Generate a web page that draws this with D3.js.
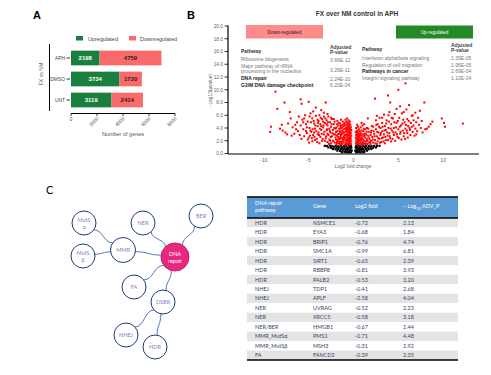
<!DOCTYPE html>
<html>
<head>
<meta charset="utf-8">
<script src="https://cdn.jsdelivr.net/npm/d3@7"></script>
<style>
  body { margin: 0; background: #fff; }
  svg { display: block; font-family: "Liberation Sans", Arial, sans-serif; }
</style>
</head>
<body>
<div id="chart"></div>
<script>
// ---- panel A data
const treatments = ['APH', 'DMSO', 'UNT']
const upregulated = [2198, 3734, 3119]
const downregulated = [4759, 1720, 2414]
const geneTicks = [0, 2000, 4000, 6000, 8000]

// ---- panel B data
const volcanoYTicks = [0, 2, 4, 6, 8, 10, 12, 14, 16, 18, 20]
const volcanoXTicks = [-10, -5, 0, 5, 10]
const downPathways = ['Ribosome biogenesis', 'Major pathway of rRNA|processing in the nucleolus', 'DNA repair', 'G2/M DNA damage checkpoint']
const downPvalues = ['3.66E-12', '3.26E-11', '2.24E-10', '6.20E-04']
const upPathways = ['Interferon alpha/beta signaling', 'Regulation of cell migration', 'Pathways in cancer', 'Integrin signaling pathway']
const upPvalues = ['1.39E-05', '1.95E-05', '2.69E-04', '1.10E-04']
// log2 fold change, -log10 p
const sigPoints = `
-9.3 3.4,-9.2 4.2,-8.7 9.7,-8.5 7.0,-8.2 3.9,-7.9 3.6,-7.7 8.0,-7.6 3.3,-7.3 4.7,-7.1 6.5,-7.0 5.5,-6.8 4.1,-6.6 3.1,-6.5 4.5,
-6.3 4.9,-6.2 3.5,-6.0 2.9,-5.9 8.5,-5.8 7.8,-5.9 4.4,-5.7 5.3,-5.6 3.8,-5.5 2.7,-5.4 6.0,-5.3 4.6,-5.2 3.2,-5.1 5.0,-5.0 8.1,
-5.0 2.5,-5.2 4.1,-4.9 4.0,-4.8 6.3,-4.8 3.6,-4.7 3.4,-4.6 5.5,-4.6 1.9,-4.5 2.9,-4.4 4.7,-4.4 3.3,-4.3 3.9,-4.3 2.1,-4.2 7.2,
-4.2 5.9,-4.1 2.3,-4.0 4.3,-4.0 3.0,-3.9 3.3,-3.9 5.1,-3.8 6.0,-3.8 1.6,-3.7 2.6,-3.7 4.6,-3.6 3.7,-3.6 4.3,-3.5 5.4,-3.5 2.0,
-3.4 4.1,-3.4 5.0,-3.3 3.0,-3.3 6.4,-3.2 4.8,-3.2 2.0,-3.1 8.0,-3.1 2.4,-3.0 3.6,-3.0 5.2,-3.0 4.6,-2.9 4.4,-2.9 1.8,-2.9 3.1,
-2.8 2.9,-2.8 5.8,-2.7 3.9,-2.7 2.2,-2.6 4.9,-2.6 3.3,-2.6 2.0,-2.5 1.6,-2.5 4.2,-2.4 2.7,-2.4 5.4,-2.3 3.7,-2.3 2.0,-2.2 4.6,
-2.2 3.0,-2.1 1.7,-2.1 5.0,-2.0 2.5,-2.0 3.9,
-6.4 3.8,-6.1 5.8,-5.8 2.3,-5.6 4.9,-5.3 3.5,-5.1 2.2,-6.9 2.8,-7.4 3.0,-8.0 4.5,-5.5 5.5,-4.9 5.8,-4.5 6.6,-4.0 5.3,-3.6 6.8,
-3.3 5.8,-2.9 6.2,-2.5 5.6,-2.2 5.4,-1.8 5.1,-1.4 5.3,
-4.95 1.7,-4.85 2.8,-4.75 4.9,-4.65 2.4,-4.55 3.8,-4.45 5.1,-4.35 2.6,-4.25 4.4,-4.15 3.5,-4.05 1.8,-3.95 4.8,-3.85 2.9,-3.75 3.9,
-3.65 5.6,-3.55 3.1,-3.45 2.3,-3.35 4.4,-3.25 3.4,-3.15 5.5,-3.05 2.7,-2.95 3.8,-2.85 4.9,-2.75 1.5,-2.65 3.6,-2.55 2.6,-2.45 4.6,
-2.35 3.2,-2.25 1.9,-2.15 4.0,-2.05 3.0,-1.95 2.2,-1.95 3.4,-1.85 4.6,-1.85 1.8,-1.75 3.0,-1.65 2.3,-1.65 4.8,-1.55 1.6,-1.55 3.6,
-1.45 2.6,-1.45 4.3,-1.35 3.2,-1.25 1.9,-1.25 4.1,-1.15 2.3,-1.15 3.4,-1.05 4.6,-1.05 2.5,
-1.9 1.5,-1.9 2.8,-1.9 4.1,-1.8 2.1,-1.8 3.5,-1.7 1.6,-1.7 2.6,-1.7 4.4,-1.6 3.1,-1.6 1.9,-1.6 3.9,-1.5 2.3,-1.5 1.4,-1.5 3.4,
-1.5 4.7,-1.4 2.9,-1.4 1.8,-1.4 4.0,-1.3 2.4,-1.3 3.6,-1.3 1.5,-1.3 4.5,-1.2 2.0,-1.2 3.1,-1.2 5.0,-1.1 1.7,-1.1 2.7,-1.1 3.8,
-1.1 4.3,-1.0 2.2,-1.0 3.3,-1.0 1.4,-1.0 4.8,-0.95 2.9,-0.95 3.9,-0.9 1.9,-0.9 2.5,-0.9 4.4,-0.9 5.3,-0.85 3.5,-0.85 1.5,
-0.8 2.1,-0.8 3.0,-0.8 4.0,-0.8 5.0,-0.75 2.7,-0.75 1.7,-0.75 3.7,-0.75 4.6,-0.7 2.3,-0.7 3.3,-0.7 1.4,-0.7 4.2,-0.7 5.5,
-0.65 2.0,-0.65 2.9,-0.65 3.9,-0.65 4.9,-0.6 1.6,-0.6 2.5,-0.6 3.5,-0.6 4.5,-0.55 2.2,-0.55 3.1,-0.55 4.1,-0.55 5.2,-0.5 1.4,
-0.5 1.9,-0.5 2.8,-0.5 3.7,-0.5 4.7,-0.45 2.4,-0.45 3.3,-0.45 4.3,-0.4 1.7,-0.4 2.1,-0.4 3.0,-0.4 3.9,-0.4 5.0,-0.35 2.6,
-0.35 3.5,-0.35 4.5,-0.3 1.5,-0.3 2.3,-0.3 3.2,-0.3 4.1,-0.25 1.9,-0.25 2.8,-0.25 3.7,
0.25 1.6,0.25 2.5,0.25 3.4,0.3 2.0,0.3 2.9,0.3 4.0,0.35 1.4,0.35 2.3,0.35 3.2,0.4 1.8,0.4 2.7,0.4 3.6,0.4 4.5,0.45 2.1,0.45 3.0,
0.5 1.5,0.5 2.4,0.5 3.4,0.5 4.2,0.55 1.9,0.55 2.8,0.6 1.6,0.6 2.2,0.6 3.1,0.6 3.8,0.65 2.6,0.7 1.4,0.7 2.0,0.7 2.9,0.7 3.5,
0.75 2.4,0.8 1.7,0.8 3.2,0.8 4.1,0.85 2.1,0.85 2.8,0.9 1.5,0.9 3.6,0.95 2.4,1.0 1.8,1.0 3.0,1.0 4.4,1.05 2.2,1.1 1.5,1.1 2.7,
1.1 3.5,1.2 2.0,1.2 3.1,1.25 1.6,1.3 2.5,1.3 3.8,1.4 1.9,1.4 3.0,1.5 2.3,1.5 1.5,1.5 4.0,1.6 2.8,1.6 5.5,1.7 1.7,1.7 3.4,
1.8 2.2,1.9 2.9,1.9 1.5,2.0 3.6,2.0 2.0,1.2 4.6,0.9 4.8,
1.05 1.6,1.15 3.9,1.25 2.8,1.35 1.5,1.45 3.4,1.55 2.0,1.65 3.9,1.75 2.5,1.85 1.8,1.95 3.3,2.05 4.3,2.15 2.2,2.25 3.5,2.35 2.7,
2.45 1.6,2.55 4.5,2.65 3.4,2.75 2.4,2.85 4.2,2.95 1.7,3.05 3.2,3.15 2.4,3.25 4.2,3.35 1.9,3.45 3.6,3.55 2.6,3.65 4.7,3.75 3.3,
3.85 2.1,3.95 5.0,4.05 2.7,4.15 3.9,4.25 5.6,4.35 2.3,4.45 3.3,4.55 4.9,4.65 2.0,4.75 4.1,4.85 3.0,4.95 5.1,5.05 2.4,5.15 4.2,
5.25 3.4,5.35 2.2,5.45 4.7,5.55 5.3,5.65 3.2,5.75 2.3,5.85 4.5,5.95 3.6,6.05 2.5,6.15 5.1,6.25 4.0,6.35 2.9,6.5 4.2,6.7 5.2,
6.8 2.8,7.0 3.0,7.3 4.5,7.7 3.3,8.2 3.9,8.6 4.6,6.6 6.0,5.6 6.5,4.8 7.0,3.9 6.0,3.2 5.6,2.6 5.9,
2.1 2.6,2.2 4.2,2.2 1.7,2.3 3.1,2.4 8.6,2.4 2.1,2.5 3.8,2.5 5.2,2.6 2.7,2.6 1.5,2.7 4.6,2.7 1.9,2.8 3.3,2.9 2.3,2.9 5.6,3.0 4.0,
3.0 2.9,3.1 1.8,3.2 3.5,3.2 4.8,3.3 2.5,3.4 6.1,3.4 3.0,3.5 4.3,3.5 1.6,3.6 2.1,3.6 3.7,3.7 5.2,3.8 2.8,3.85 9.1,3.9 4.0,
4.0 3.2,4.0 6.5,4.1 8.0,4.1 2.4,4.2 4.6,4.2 1.9,4.3 3.6,4.4 5.5,4.5 2.9,4.5 4.0,4.6 6.2,4.7 3.3,4.8 4.8,4.9 2.6,5.0 10.0,
5.0 3.8,5.1 5.6,5.2 7.4,5.2 3.1,5.3 4.4,5.4 6.3,5.5 3.6,5.6 2.7,5.7 4.9,5.8 11.0,5.8 3.9,5.9 6.9,6.0 3.2,6.0 5.4,6.1 4.3,
6.2 7.6,6.3 3.7,6.4 4.8,6.5 5.9,6.6 3.4,6.7 4.4,6.9 6.4,6.9 3.9,7.0 4.9,7.1 3.5,7.2 5.6,7.4 6.7,7.5 4.0,7.6 5.1,7.9 8.0,
8.0 3.8,8.4 4.2,8.8 5.0,9.85 5.5,10.1 4.8,10.2 4.2,12.2 4.7`
const nsPoints = `
-3.2 1.2,-2.95 1.17,-2.6 1.22,-2.35 1.15,-2.0 1.21,-1.75 1.14,-1.4 1.2,-1.1 1.16,-0.82 1.22,-0.5 1.15,-0.3 1.2,
0.3 1.18,0.52 1.22,0.8 1.14,1.1 1.2,1.38 1.16,1.7 1.21,2.0 1.15,2.3 1.2,2.62 1.17,2.9 1.2,
-2.8 0.95,-2.5 0.9,-2.2 0.97,-1.9 0.92,-1.6 0.96,-1.3 0.9,-1.0 0.95,-0.7 0.91,-0.45 0.97,-0.25 0.93,
0.25 0.95,0.45 0.9,0.7 0.96,1.0 0.92,1.3 0.97,1.6 0.91,1.9 0.95,2.2 0.92,2.5 0.96,
-2.3 0.7,-2.0 0.66,-1.7 0.72,-1.4 0.68,-1.1 0.71,-0.85 0.66,-0.6 0.7,-0.35 0.67,
0.35 0.7,0.6 0.66,0.85 0.72,1.1 0.68,1.4 0.7,1.7 0.67,2.0 0.71,
-1.8 0.45,-1.5 0.42,-1.2 0.47,-0.9 0.43,-0.65 0.46,-0.4 0.42,-0.2 0.45,
0.2 0.44,0.4 0.46,0.65 0.42,0.9 0.47,1.2 0.43,1.5 0.45,
-1.3 0.2,-1.0 0.22,-0.75 0.18,-0.5 0.21,-0.3 0.19,0.3 0.2,0.5 0.22,0.75 0.18,1.0 0.21,1.2 0.2`

// ---- panel C data
const repairNodes = ['DNA|repair', 'MutS|α', 'MutS|β', 'MMR', 'NER', 'BER', 'FA', 'DSBR', 'NHEJ', 'HDR']
const repairLinks = [['MutS|α', 'MMR'], ['MutS|β', 'MMR'], ['MMR', 'DNA|repair'], ['NER', 'DNA|repair'],
  ['BER', 'DNA|repair'], ['FA', 'DNA|repair'], ['DSBR', 'DNA|repair'], ['DSBR', 'NHEJ'], ['DSBR', 'HDR']]

// ---- table data
const tblPathway = ['HDR', 'HDR', 'HDR', 'HDR', 'HDR', 'HDR', 'HDR', 'NHEJ', 'NHEJ', 'NER', 'NER', 'NER/BER', 'MMR_MutSα', 'MMR_MutSβ', 'FA']
const tblGene = ['NSMCE1', 'EYA3', 'BRIP1', 'SMC1A', 'SIRT1', 'RBBP8', 'PALB2', 'TDP1', 'APLF', 'UVRAG', 'XRCC5', 'HMGB1', 'PMS1', 'MSH3', 'FANCD2']
const tblLog2 = [-0.72, -0.68, -0.76, -0.99, -0.65, -0.81, -0.53, -0.41, -2.58, -0.52, -0.58, -0.67, -0.71, -0.31, -0.39]
const tblP = [2.13, 1.84, 4.74, 6.81, 2.39, 3.93, 3.20, 2.68, 4.04, 2.23, 3.18, 2.44, 4.48, 2.92, 2.35]

const parsePts = s => s.trim().split(',').map(p => p.trim().split(' ').map(Number))

let W = 491, H = 375
let svg = d3.select('#chart').append('svg').attr('width', W).attr('height', H)
svg.append('rect').attr('width', W).attr('height', H).attr('fill', '#fff')

// panel letters
svg.append('text').text('A').attr('x', 33).attr('y', 19).attr('font-size', 11).attr('font-weight', 'bold')
svg.append('text').text('B').attr('x', 187).attr('y', 19).attr('font-size', 11).attr('font-weight', 'bold')
svg.append('text').text('C').attr('x', 46).attr('y', 194).attr('font-size', 11).attr('font-family', 'Lato, sans-serif')

// ================= A: stacked bars
{
  const green = '#1a7f3e', red = '#fb6a6a'
  let x = d3.scaleLinear().domain([0, 8000]).range([71, 175])
  let y = d3.scaleBand().domain(treatments).range([47.5, 110.5]).paddingInner(0.3).paddingOuter(0.15)
  let g = svg.append('g')
  let rows = treatments.map((t, i) => ({ name: t, up: upregulated[i], down: downregulated[i] }))

  g.selectAll('rect.up').data(rows).enter().append('rect')
    .attr('x', x(0)).attr('y', d => y(d.name)).attr('width', d => x(d.up) - x(0))
    .attr('height', y.bandwidth()).attr('fill', green)
  g.selectAll('rect.down').data(rows).enter().append('rect')
    .attr('x', d => x(d.up)).attr('y', d => y(d.name)).attr('width', d => x(d.up + d.down) - x(d.up))
    .attr('height', y.bandwidth()).attr('fill', red)
  g.selectAll('text.up').data(rows).enter().append('text').text(d => d.up)
    .attr('x', d => (x(0) + x(d.up)) / 2).attr('y', d => y(d.name) + y.bandwidth() / 2 + 2)
    .attr('text-anchor', 'middle').attr('font-size', 6).attr('font-weight', 'bold').attr('fill', '#fff')
  g.selectAll('text.down').data(rows).enter().append('text').text(d => d.down)
    .attr('x', d => (x(d.up) + x(d.up + d.down)) / 2).attr('y', d => y(d.name) + y.bandwidth() / 2 + 2)
    .attr('text-anchor', 'middle').attr('font-size', 6).attr('font-weight', 'bold').attr('fill', '#222')

  // left bracket line + category ticks
  g.append('line').attr('x1', 49.5).attr('x2', 49.5).attr('y1', 44).attr('y2', 111).attr('stroke', '#000').attr('stroke-width', 1)
  g.selectAll('line.tk').data(treatments).enter().append('line')
    .attr('x1', 66.5).attr('x2', 70).attr('y1', d => y(d) + y.bandwidth() / 2).attr('y2', d => y(d) + y.bandwidth() / 2)
    .attr('stroke', '#000').attr('stroke-width', 0.8)
  g.selectAll('text.cat').data(treatments).enter().append('text').text(d => d)
    .attr('x', 65).attr('y', d => y(d) + y.bandwidth() / 2 + 2).attr('text-anchor', 'end')
    .attr('font-size', 4.9).attr('fill', '#444')
  g.append('text').text('FX vs NM').attr('transform', 'translate(43,74) rotate(-90)')
    .attr('text-anchor', 'middle').attr('font-size', 5.2).attr('fill', '#555')

  // x axis
  g.append('line').attr('x1', x(0)).attr('x2', x(8000)).attr('y1', 113.5).attr('y2', 113.5).attr('stroke', '#000').attr('stroke-width', 1)
  g.selectAll('line.xt').data(geneTicks).enter().append('line')
    .attr('x1', d => x(d)).attr('x2', d => x(d)).attr('y1', 113.5).attr('y2', 116).attr('stroke', '#000').attr('stroke-width', 0.8)
  g.selectAll('text.xt').data(geneTicks).enter().append('text').text(d => d)
    .attr('transform', d => d === 0 ? `translate(${x(d)},121)` : `translate(${x(d) + 2},119) rotate(-45)`)
    .attr('text-anchor', d => d === 0 ? 'middle' : 'end').attr('font-size', 5).attr('fill', '#556')
  g.append('text').text('Number of genes').attr('x', 123).attr('y', 136)
    .attr('text-anchor', 'middle').attr('font-size', 5.5).attr('fill', '#555')

  // legend
  g.append('rect').attr('x', 76).attr('y', 36).attr('width', 7).attr('height', 4.5).attr('fill', green)
  g.append('text').text('Upregulated').attr('x', 88).attr('y', 40.5).attr('font-size', 5.5).attr('fill', '#444')
  g.append('rect').attr('x', 129).attr('y', 36).attr('width', 7).attr('height', 4.5).attr('fill', red)
  g.append('text').text('Downregulated').attr('x', 140).attr('y', 40.5).attr('font-size', 5.5).attr('fill', '#444')
}

// ================= B: volcano
{
  let x = d3.scaleLinear().domain([-14, 14]).range([228, 479])
  let y = d3.scaleLinear().domain([0, 20]).range([153.5, 26])
  let g = svg.append('g')

  g.append('text').text('FX over NM control in APH').attr('x', 357).attr('y', 16)
    .attr('text-anchor', 'middle').attr('font-size', 6.5).attr('font-weight', 'bold').attr('fill', '#333')

  let ns = parsePts(nsPoints), sig = parsePts(sigPoints)
  g.selectAll('rect.ns').data(ns).enter().append('rect')
    .attr('x', d => x(d[0]) - 1.1).attr('y', d => y(d[1]) - 1.1).attr('width', 2.2).attr('height', 2.2).attr('fill', '#000')
  g.selectAll('rect.sig').data(sig).enter().append('rect')
    .attr('x', d => x(d[0]) - 1).attr('y', d => y(d[1]) - 1).attr('width', 2).attr('height', 2).attr('fill', '#f00')

  // axes
  g.append('line').attr('x1', 228).attr('x2', 479).attr('y1', 154).attr('y2', 154).attr('stroke', '#000').attr('stroke-width', 1.2)
  g.append('line').attr('x1', 228).attr('x2', 228).attr('y1', 25.5).attr('y2', 154).attr('stroke', '#000').attr('stroke-width', 1.2)
  g.selectAll('line.yt').data(volcanoYTicks).enter().append('line')
    .attr('x1', 224.5).attr('x2', 228).attr('y1', d => y(d)).attr('y2', d => y(d)).attr('stroke', '#000').attr('stroke-width', 0.8)
  g.selectAll('text.yt').data(volcanoYTicks).enter().append('text').text(d => d.toFixed(1))
    .attr('x', 223).attr('y', d => y(d) + 1.8).attr('text-anchor', 'end').attr('font-size', 4.8).attr('fill', '#666')
  g.selectAll('text.xt').data(volcanoXTicks).enter().append('text').text(d => d)
    .attr('x', d => x(d)).attr('y', 162).attr('text-anchor', 'middle').attr('font-size', 5).attr('fill', '#666')
  g.append('text').text('Log2 fold change').attr('x', 353).attr('y', 168)
    .attr('text-anchor', 'middle').attr('font-size', 4.8).attr('fill', '#666')
  g.append('text').text('-Log10(pvalue)').attr('transform', 'translate(212,90) rotate(-90)')
    .attr('text-anchor', 'middle').attr('font-size', 4.8).attr('fill', '#666')

  // regulated boxes
  g.append('rect').attr('x', 246).attr('y', 25).attr('width', 77).attr('height', 13.5).attr('fill', '#ff8a8a')
  g.append('text').text('Down-regulated').attr('x', 284.5).attr('y', 33.8).attr('text-anchor', 'middle')
    .attr('font-size', 4.8).attr('fill', '#222')
  g.append('rect').attr('x', 396).attr('y', 25.5).attr('width', 77).attr('height', 13).attr('fill', '#218a24')
  g.append('text').text('Up-regulated').attr('x', 434.5).attr('y', 34).attr('text-anchor', 'middle')
    .attr('font-size', 4.8).attr('fill', '#fff')

  // pathway tables
  const fs = 5
  g.append('text').text('Pathway').attr('x', 241).attr('y', 53).attr('font-size', fs).attr('font-weight', 'bold').attr('fill', '#333')
  let downY = [61, 67.5, 80, 86.5]
  downPathways.forEach((p, i) => {
    let lines = p.split('|'), strong = i >= 2
    lines.forEach((l, j) => g.append('text').text(l).attr('x', 241).attr('y', downY[i] + j * 5)
      .attr('font-size', fs).attr('font-weight', strong ? 'bold' : 'normal').attr('fill', strong ? '#222' : '#777'))
  })
  g.append('text').text('Adjusted').attr('x', 330).attr('y', 48.5).attr('font-size', fs).attr('font-weight', 'bold').attr('fill', '#444')
  g.append('text').text('P-value').attr('x', 330).attr('y', 53.5).attr('font-size', fs).attr('font-weight', 'bold').attr('fill', '#444')
  let downPY = [61.5, 71.5, 80.5, 86.5]
  downPvalues.forEach((p, i) => g.append('text').text(p).attr('x', 330).attr('y', downPY[i]).attr('font-size', fs).attr('fill', '#777'))

  g.append('text').text('Pathway').attr('x', 362).attr('y', 51).attr('font-size', fs).attr('font-weight', 'bold').attr('fill', '#333')
  let upY = [60, 66.5, 73, 79.5]
  upPathways.forEach((p, i) => g.append('text').text(p).attr('x', 362).attr('y', upY[i]).attr('font-size', fs)
    .attr('font-weight', i === 2 ? 'bold' : 'normal').attr('fill', i === 2 ? '#222' : '#777'))
  g.append('text').text('Adjusted').attr('x', 451).attr('y', 46.5).attr('font-size', fs).attr('font-weight', 'bold').attr('fill', '#444')
  g.append('text').text('P-value').attr('x', 451).attr('y', 51.5).attr('font-size', fs).attr('font-weight', 'bold').attr('fill', '#444')
  upPvalues.forEach((p, i) => g.append('text').text(p).attr('x', 451).attr('y', upY[i]).attr('font-size', fs).attr('fill', '#777'))
}

// ================= C: repair network
{
  const layout = {
    'DNA|repair': [175, 257, 14], 'MutS|α': [84, 223, 12], 'MutS|β': [83, 256, 12], 'MMR': [123, 250, 12.5],
    'NER': [143, 223, 12], 'BER': [201, 216, 12], 'FA': [134, 287, 12], 'DSBR': [163, 302, 12],
    'NHEJ': [126, 335, 12], 'HDR': [155, 347, 12]
  }
  let g = svg.append('g').attr('font-family', 'Lato, "Open Sans", sans-serif')
  let nodes = repairNodes.map(n => ({ id: n, x: layout[n][0], y: layout[n][1], r: layout[n][2] }))
  let byId = new Map(nodes.map(n => [n.id, n]))

  let edge = (a, b) => {
    let dx = b.x - a.x, dy = b.y - a.y, len = Math.hypot(dx, dy)
    let s = [a.x + dx / len * a.r, a.y + dy / len * a.r], t = [b.x - dx / len * b.r, b.y - dy / len * b.r]
    let gen = Math.abs(dx) > Math.abs(dy) ? d3.linkHorizontal() : d3.linkVertical()
    return gen({ source: s, target: t })
  }
  g.selectAll('path').data(repairLinks).enter().append('path')
    .attr('d', d => edge(byId.get(d[0]), byId.get(d[1])))
    .attr('fill', 'none').attr('stroke', '#3b64b5').attr('stroke-width', 0.9)

  let ng = g.selectAll('g.node').data(nodes).enter().append('g').attr('transform', d => `translate(${d.x},${d.y})`)
  ng.append('circle').attr('r', d => d.r)
    .attr('fill', d => d.id === 'DNA|repair' ? '#e6287f' : '#fff')
    .attr('stroke', d => d.id === 'DNA|repair' ? '#c51f6a' : '#1f3a78').attr('stroke-width', 1)
  ng.each(function (d) {
    let lines = d.id.split('|'), sel = d3.select(this)
    lines.forEach((l, j) => sel.append('text').text(l)
      .attr('y', (j - (lines.length - 1) / 2) * 7 + 2).attr('text-anchor', 'middle').attr('font-size', 5.5)
      .attr('fill', d.id === 'DNA|repair' ? '#fff' : '#8f78c8'))
  })
}

// ================= table
{
  let g = svg.append('g').attr('font-family', 'Lato, "Open Sans", sans-serif')
  const x0 = 247, x1 = 458, headTop = 197, headBot = 218
  let rowY = d3.scaleBand().domain(d3.range(tblGene.length)).range([headBot, 360])
  let cols = [255, 313, 355, 403]

  g.append('rect').attr('x', x0).attr('y', headTop).attr('width', x1 - x0).attr('height', headBot - headTop).attr('fill', '#5b9bd5')
  g.selectAll('rect.row').data(tblGene).enter().append('rect')
    .attr('x', x0).attr('y', (d, i) => rowY(i)).attr('width', x1 - x0).attr('height', rowY.bandwidth())
    .attr('fill', (d, i) => i % 2 === 0 ? '#e4e4e4' : '#fff')
  g.append('line').attr('x1', x0).attr('x2', x1).attr('y1', headTop).attr('y2', headTop).attr('stroke', '#000').attr('stroke-width', 1.5)
  g.append('line').attr('x1', x0).attr('x2', x1).attr('y1', headBot).attr('y2', headBot).attr('stroke', '#000').attr('stroke-width', 1.5)
  g.append('line').attr('x1', x0).attr('x2', x1).attr('y1', 360).attr('y2', 360).attr('stroke', '#000').attr('stroke-width', 1.5)

  let hs = 5.5
  g.append('text').text('DNA repair').attr('x', cols[0]).attr('y', 205).attr('font-size', hs).attr('fill', '#fff')
  g.append('text').text('pathway').attr('x', cols[0]).attr('y', 212).attr('font-size', hs).attr('fill', '#fff')
  g.append('text').text('Gene').attr('x', cols[1]).attr('y', 208).attr('font-size', hs).attr('fill', '#fff')
  g.append('text').text('Log2 fold').attr('x', cols[2]).attr('y', 208).attr('font-size', hs).attr('fill', '#fff')
  let ht = g.append('text').attr('x', cols[3]).attr('y', 208).attr('font-size', hs).attr('fill', '#fff')
  ht.append('tspan').text('– Log')
  ht.append('tspan').text('10').attr('font-size', 4).attr('dy', 1.5)
  ht.append('tspan').text(' ADV_P').attr('dy', -1.5)

  let cells = [tblPathway, tblGene, tblLog2.map(v => v.toFixed(2)), tblP.map(v => v.toFixed(2))]
  cells.forEach((col, c) => {
    g.selectAll(`text.c${c}`).data(col).enter().append('text').text(d => d)
      .attr('x', cols[c]).attr('y', (d, i) => rowY(i) + rowY.bandwidth() / 2 + 2)
      .attr('font-size', 5.5).attr('fill', '#3a4466')
  })
}
</script>
</body>
</html>
